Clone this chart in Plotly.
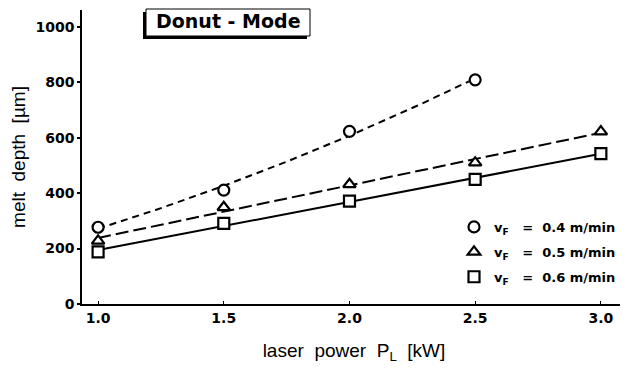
import numpy as np
import plotly.graph_objects as go

# ---- data ----
power_04 = [1.0, 1.5, 2.0, 2.5]
depth_04 = [277, 411, 623, 809]
power_05 = [1.0, 1.5, 2.0, 2.5, 3.0]
depth_05 = [228, 349, 432, 510, 622]
power_06 = [1.0, 1.5, 2.0, 2.5, 3.0]
depth_06 = [188, 291, 371, 450, 543]
labels = ["v<sub>F</sub>   =  0.4 m/min", "v<sub>F</sub>   =  0.5 m/min", "v<sub>F</sub>   =  0.6 m/min"]
x_ticks = [1.0, 1.5, 2.0, 2.5, 3.0]
x_ticktext = ["1.0", "1.5", "2.0", "2.5", "3.0"]
y_ticks = [0, 200, 400, 600, 800, 1000]

# page body has an 8px default margin: figure is drawn offset by 8px
OFF = 8
W, H = 628 - OFF, 369 - OFF
ML, MR, MT, MB = 82 - OFF, 2, 10 - OFF, 65
pw, ph = W - ML - MR, H - MT - MB

def px2paper(x, y):
    # x, y are window pixel coordinates of the reference
    return (x - OFF - ML) / pw, (H - MB - (y - OFF)) / ph

fig = go.Figure()

# fitted curves
def fit_curve(xs, ys, deg):
    c = np.polyfit(xs, ys, deg)
    xx = np.linspace(min(xs), max(xs), 60)
    return xx, np.polyval(c, xx)

for xs, ys, deg, dash in [
    (power_04, depth_04, 2, "7px,5px"),
    (power_05, depth_05, 1, "13px,5px"),
    (power_06, depth_06, 1, "solid"),
]:
    xx, yy = fit_curve(xs, ys, deg)
    fig.add_trace(go.Scatter(x=xx, y=yy, mode="lines", showlegend=False,
                             line=dict(color="black", width=2, dash=dash),
                             hoverinfo="skip"))

for i, (xs, ys, sym, name) in enumerate([
    (power_04, depth_04, "circle", labels[0]),
    (power_05, depth_05, "triangle-up", labels[1]),
    (power_06, depth_06, "square", labels[2]),
]):
    fig.add_trace(go.Scatter(x=xs, y=ys, mode="markers", name=name, legendgroup=f"g{i}",
                             marker=dict(symbol=sym, size=11, color="white",
                                         line=dict(color="black", width=2.2))))

# title box with shadow
sx0, sy0 = px2paper(143, 39)
sx1, sy1 = px2paper(307, 12)
bx0, by0 = px2paper(146, 36)
bx1, by1 = px2paper(310, 9)
fig.add_shape(type="rect", xref="paper", yref="paper", x0=sx0, y0=sy0, x1=sx1, y1=sy1,
              fillcolor="black", line=dict(width=0), layer="above")
fig.add_shape(type="rect", xref="paper", yref="paper", x0=bx0, y0=by0, x1=bx1, y1=by1,
              fillcolor="white", line=dict(color="black", width=1), layer="above")
tx, ty = px2paper(228, 21)
fig.add_annotation(xref="paper", yref="paper", x=tx, y=ty, text="<b>Donut - Mode</b>",
                   showarrow=False, xanchor="center", yanchor="middle",
                   font=dict(family="DejaVu Sans", size=19, color="black"))

lx, ly = px2paper(454, 212)
fig.update_layout(
    width=W, height=H,
    margin=dict(l=ML, r=MR, t=MT, b=MB, autoexpand=False),
    plot_bgcolor="white", paper_bgcolor="white",
    font=dict(family="Liberation Sans", color="black"),
    legend=dict(x=lx, y=ly, xanchor="left", yanchor="top", bgcolor="rgba(0,0,0,0)",
                font=dict(family="DejaVu Sans", size=13, weight="bold"),
                itemwidth=30, tracegroupgap=5, traceorder="grouped"),
    xaxis=dict(range=[0.936, 3.1], tickvals=x_ticks, ticktext=x_ticktext, automargin=False,
               showgrid=False, zeroline=False, showline=True, linecolor="black", linewidth=2,
               ticks="inside", ticklen=3, tickwidth=1, tickcolor="black",
               tickfont=dict(family="DejaVu Sans", size=14, weight="bold"),
               title=dict(text="laser  power  P<sub>L</sub>  [kW]", standoff=19,
                          font=dict(family="Liberation Sans", size=19))),
    yaxis=dict(range=[0, 1061], tickvals=y_ticks, automargin=False,
               showgrid=False, zeroline=False, showline=True, linecolor="black", linewidth=1.5,
               ticks="outside", ticklen=3, tickwidth=1.5, tickcolor="black",
               tickfont=dict(family="DejaVu Sans", size=14, weight="bold"),
               title=dict(text="melt  depth  [µm]", standoff=6,
                          font=dict(family="Liberation Sans", size=19))),
)

fig.write_html("out.html")
